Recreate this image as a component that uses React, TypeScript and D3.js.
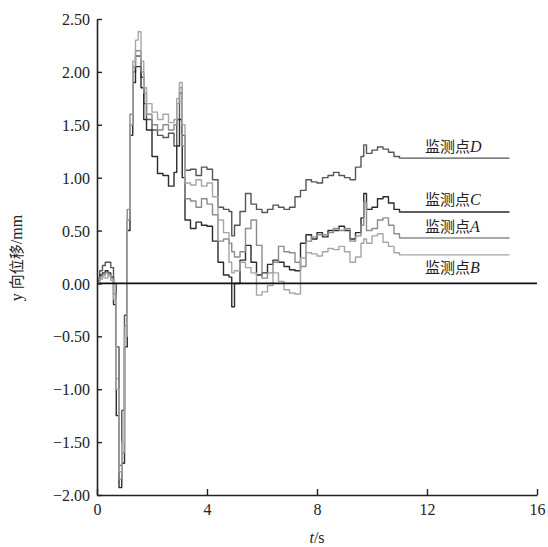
import { useEffect, useRef } from 'react';
import * as d3 from 'd3';

// time stamps (s) shared by all four monitoring points
const times = [
  0, 0.1, 0.2, 0.3, 0.4, 0.5, 0.6, 0.7, 0.8, 0.9, 1.0, 1.1, 1.2, 1.3, 1.4, 1.5, 1.6, 1.7, 1.8,
  2.0, 2.2, 2.4, 2.6, 2.8, 2.9, 3.0, 3.1, 3.2, 3.4, 3.6, 3.8, 4.0, 4.2, 4.4, 4.6, 4.8, 4.9, 5.0,
  5.2, 5.4, 5.6, 5.8, 6.0, 6.2, 6.4, 6.6, 6.8, 7.0, 7.2, 7.4, 7.6, 7.8, 8.0, 8.2, 8.4, 8.6, 8.8,
  9.0, 9.2, 9.4, 9.6, 9.7, 9.8, 10.0, 10.2, 10.4, 10.6, 10.8, 11.0, 15.0,
];

// y displacement (mm)
const pointA = [
  0.02, 0.06, 0.08, 0.1, 0.08, 0.05, -0.1, -0.9, -1.85, -1.6, -0.4, 0.7, 1.6, 2.05, 2.2, 2.2, 2.0, 1.8, 1.6,
  1.5, 1.45, 1.5, 1.45, 1.5, 1.7, 1.85, 1.3, 0.8, 0.78, 0.72, 0.8, 0.75, 0.65, 0.4, 0.42, 0.38, 0.3, 0.25,
  0.3, 0.52, 0.6, 0.36, 0.05, 0.1, 0.2, 0.35, 0.3, 0.29, 0.2, 0.16, 0.4, 0.44, 0.46, 0.46, 0.48, 0.52, 0.5,
  0.52, 0.4, 0.45, 0.55, 0.77, 0.5, 0.52, 0.6, 0.62, 0.55, 0.47, 0.43, 0.43,
];
const pointB = [
  0.0, 0.04, 0.06, 0.05, 0.07, 0.03, -0.15, -1.0, -1.78, -1.5, -0.5, 0.6, 1.5, 2.1, 2.3, 2.38, 2.1, 1.85, 1.7,
  1.62, 1.55, 1.6, 1.52, 1.55, 1.75, 1.9, 1.5, 0.95, 0.93, 0.98, 0.92, 0.95, 0.82, 0.6, 0.48, 0.2, 0.1, 0.12,
  0.2, 0.15, 0.1, -0.11, -0.08, -0.02, 0.1, 0.02, -0.06, -0.09, -0.1, 0.24, 0.29, 0.28, 0.26, 0.3, 0.33, 0.32, 0.35,
  0.3, 0.2, 0.25, 0.38, 0.42, 0.38, 0.45, 0.47, 0.39, 0.35, 0.29, 0.27, 0.27,
];
const pointC = [
  0.03, 0.08, 0.1, 0.12, 0.1, 0.06, -0.2, -1.25, -1.93, -1.7, -0.6, 0.5, 1.4, 1.9, 2.05, 2.05, 1.85, 1.55, 1.45,
  1.2, 1.04, 1.02, 0.92, 1.05, 1.3, 1.55, 1.0, 0.6, 0.52, 0.58, 0.55, 0.54, 0.4, 0.2, 0.08, 0.06, -0.22, 0.0,
  0.22, 0.36, 0.2, 0.08, 0.1, 0.18, 0.22, 0.2, 0.16, 0.13, 0.12, 0.38, 0.46, 0.42, 0.48, 0.44, 0.5, 0.5, 0.54,
  0.5, 0.42, 0.48, 0.62, 0.85, 0.7, 0.72, 0.8, 0.82, 0.76, 0.7, 0.675, 0.675,
];
const pointD = [
  0.05, 0.12, 0.17, 0.2, 0.2, 0.15, 0.0, -0.6, -1.72, -1.2, -0.3, 0.6, 1.5, 2.0, 2.15, 2.15, 1.95, 1.7, 1.55,
  1.45, 1.4, 1.38, 1.42, 1.3, 1.55, 1.8, 1.4, 1.07, 1.08, 1.02, 1.1, 1.08, 0.98, 0.72, 0.7, 0.68, 0.45, 0.55,
  0.68, 0.85, 0.75, 0.7, 0.67, 0.7, 0.74, 0.72, 0.7, 0.72, 0.82, 0.88, 0.98, 0.96, 0.95, 1.0, 1.02, 1.05, 1.02,
  1.0, 0.98, 1.1, 1.2, 1.31, 1.23, 1.26, 1.29, 1.27, 1.24, 1.2, 1.185, 1.185,
];

const seriesNames = ['D', 'C', 'A', 'B'];
const seriesValues = [pointD, pointC, pointA, pointB];
const seriesColors = ['#555555', '#2b2b2b', '#8c8c8c', '#a6a6a6'];

const xTicks = [0, 4, 8, 12, 16];
const yTicks = [-2, -1.5, -1, -0.5, 0, 0.5, 1, 1.5, 2, 2.5];

export default function App() {
  const svgRef = useRef<SVGSVGElement>(null);

  useEffect(() => {
    if (!svgRef.current) return;
    const svg = d3.select(svgRef.current);
    svg.selectAll('*').remove();

    const x = d3.scaleLinear().domain([0, 16]).range([97, 537]);
    const y = d3.scaleLinear().domain([-2, 2.5]).range([495, 19]);
    const serif = '"Liberation Serif", "Times New Roman", serif';
    const cjk = '"Noto Sans CJK SC", sans-serif';

    // curves: recorded signal is stair-like
    const line = d3.line<number>()
      .x((_, i) => x(times[i]))
      .y(d => y(d))
      .curve(d3.curveStepAfter);

    seriesValues.forEach((vals, k) => {
      svg.append('path')
        .attr('d', line(vals) || '')
        .attr('fill', 'none')
        .attr('stroke', seriesColors[k])
        .attr('stroke-width', 1.4)
        .attr('stroke-linejoin', 'round');
    });

    // zero line
    svg.append('line')
      .attr('x1', x(0)).attr('x2', x(16))
      .attr('y1', y(0)).attr('y2', y(0))
      .attr('stroke', '#111').attr('stroke-width', 1.8);

    // axes with inward ticks
    const xAxis = svg.append('g')
      .attr('transform', `translate(0,${y(-2)})`)
      .call(d3.axisBottom(x).tickValues(xTicks).tickSizeInner(-6).tickSizeOuter(0).tickPadding(9)
        .tickFormat(d => String(d)));
    const yAxis = svg.append('g')
      .attr('transform', `translate(${x(0)},0)`)
      .call(d3.axisLeft(y).tickValues(yTicks).tickSizeInner(-5).tickSizeOuter(0).tickPadding(7)
        .tickFormat(d => d3.format('.2f')(+d).replace('-', '\u2212')));

    [xAxis, yAxis].forEach(g => {
      g.select('.domain').attr('stroke', '#222').attr('stroke-width', 1.6);
      g.selectAll('.tick line').attr('stroke', '#222').attr('stroke-width', 1.4);
      g.selectAll('.tick text')
        .attr('fill', '#222')
        .style('font-family', serif)
        .style('font-size', '16px');
    });
    yAxis.selectAll('.tick text').attr('dy', '0.35em');

    // axis titles
    const xt = svg.append('text')
      .attr('x', 317).attr('y', 543)
      .attr('text-anchor', 'middle')
      .attr('fill', '#222')
      .style('font-family', serif)
      .style('font-size', '16px');
    xt.append('tspan').attr('font-style', 'italic').text('t');
    xt.append('tspan').text('/s');

    const yt = svg.append('text')
      .attr('transform', `translate(22,258) rotate(-90)`)
      .attr('text-anchor', 'middle')
      .attr('fill', '#222')
      .style('font-size', '16px');
    yt.append('tspan').style('font-family', serif).text('y ');
    yt.append('tspan').style('font-family', cjk).style('font-size', '15px').text('向位移');
    yt.append('tspan').style('font-family', serif).text('/mm');

    // series labels
    const labelY = [152, 205, 232, 273];
    seriesNames.forEach((name, k) => {
      const t = svg.append('text')
        .attr('x', 425).attr('y', labelY[k])
        .attr('fill', '#222')
        .style('font-size', '15px');
      t.append('tspan').style('font-family', cjk).text('监测点');
      t.append('tspan').style('font-family', serif).attr('font-style', 'italic').style('font-size', '16px').text(name);
    });
  }, []);

  return (
    <svg
      ref={svgRef}
      width={548}
      height={547}
      style={{ position: 'absolute', left: 0, top: 0, background: '#fff' }}
    />
  );
}
